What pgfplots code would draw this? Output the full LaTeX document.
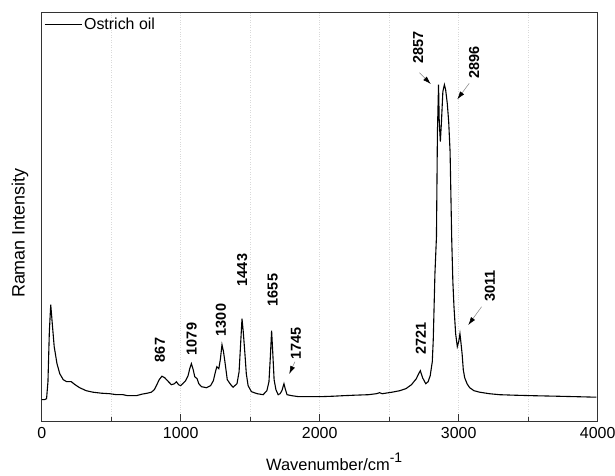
\documentclass[border=0pt]{standalone}
\usepackage{pgfplots}
\pgfplotsset{compat=1.18}
\usepackage{fontspec}
\setmainfont{Liberation Sans}
\usetikzlibrary{arrows.meta}

\pgfplotstableread{
wn I
0 22
20 22
35 23
45 40
55 90
65 117
75 100
90 75
110 58
130 48
155 42
180 40
213 40
240 37
273 34
320 31
369 29.5
430 28.5
489 28
540 27
585 27
620 26
681 26
720 27.5
760 28.5
789 29.5
810 32
825 36
845 42
865 45.5
885 44
905 41
933 37
955 38
969 40
985 37
1000 36
1015 38
1035 41
1053 46
1065 53
1077 58
1090 52
1101 45
1118 43
1130 38
1150 35
1185 34
1215 36
1235 41
1250 50
1260 55
1274 53
1285 62
1297 77
1308 70
1320 58
1335 42
1360 37
1377 34.5
1405 38
1420 50
1432 80
1441 103
1450 90
1462 68
1472 48
1485 36
1509 30
1550 28
1593 27
1620 31
1635 40
1645 65
1654 91
1662 70
1672 42
1685 32
1701 27
1715 28
1728 31
1743 38
1752 33
1765 27
1800 26
1850 25
1928 25
2000 25
2100 25.5
2168 26
2250 26.5
2350 27
2408 28
2430 29
2450 28
2520 29.5
2576 31
2620 33
2660 37
2695 43
2712 48
2724 51
2740 44
2763 38
2780 40
2795 46
2810 60
2817 82
2829 148
2840 185
2847 290
2855 337
2860 300
2868 280
2876 300
2886 330
2897 337
2906 332
2918 318
2928 300
2938 270
2950 181
2958 140
2966 115
2978 88
2990 75
3000 80
3009 88
3017 78
3025 67
3033 52
3043 44
3060 38
3079 34
3110 31
3151 29.5
3220 28
3295 27
3400 26.5
3535 26
3700 25.5
3850 25
3990 24.5
}\ostrich

\begin{document}
\begin{tikzpicture}
\useasboundingbox (-41.7bp,-54.3bp) rectangle (573.3bp,421.7bp);
\begin{axis}[
    at={(0,0)}, anchor=south west,
    scale only axis,
    width=556bp, height=409bp,
    xmin=0, xmax=4000,
    ymin=0, ymax=409,
    xtick={0,1000,2000,3000,4000},
    minor xtick={500,1500,2500,3500},
    ytick=\empty,
    xtick pos=left,
    tick align=inside,
    major tick length=8bp,
    minor tick length=5bp,
    xmajorgrids, xminorgrids,
    grid style={dotted, gray!30, line width=0.5bp},
    minor grid style={dotted, gray!30, line width=0.5bp},
    axis line style={black!80, line width=1.2bp},
    every tick/.style={black!80, line width=1.2bp},
    /pgf/number format/assume math mode=true,
    /pgf/number format/1000 sep={},
    tick label style={font=\fontsize{16}{16}\selectfont},
    xticklabel style={yshift=-2bp},
    xlabel={Wavenumber/cm\raisebox{8bp}{\fontsize{14}{14}\selectfont -1}},
    xlabel style={font=\fontsize{16.5}{16.5}\selectfont, at={(axis description cs:0.526,-0.119)}, anchor=base},
    ylabel={Raman Intensity},
    ylabel style={font=\fontsize{18}{18}\selectfont, at={(axis description cs:-0.039,0.461)}, anchor=center, rotate=0},
    legend style={at={(axis description cs:0.002,0.994)}, anchor=north west, draw=none, fill=none,
        inner sep=1bp, font=\fontsize{16}{16}\selectfont},
    legend cell align=left,
    legend image code/.code={\draw[#1] (0bp,0bp) -- (37bp,0bp);},
    clip=false,
]
\addplot[black, line width=1.1bp] table[x=wn, y=I] {\ostrich};
\addlegendentry{Ostrich oil}

\tikzset{lab/.style={rotate=90, font=\fontsize{14.5}{14.5}\selectfont\bfseries, inner sep=0pt},
         arr/.style={gray, line width=0.5bp, -{Latex[black, length=8bp, width=5bp]}}}
\node[lab] at (axis cs:851,71.7) {867};
\node[lab] at (axis cs:1079,82.7) {1079};
\node[lab] at (axis cs:1290,101.7) {1300};
\node[lab] at (axis cs:1443,151.7) {1443};
\node[lab] at (axis cs:1662,131.7) {1655};
\node[lab] at (axis cs:1830,78.4) {1745};
\draw[arr] (axis cs:1822,60) -- (axis cs:1781,47.7);
\node[lab] at (axis cs:2727,83.4) {2721};
\node[lab] at (axis cs:3225,136) {3011};
\draw[arr] (axis cs:3165,115) -- (axis cs:3069,96.7);
\node[lab] at (axis cs:2709,374.2) {2857};
\draw[arr] (axis cs:2717,349) -- (axis cs:2799,337.7);
\node[lab] at (axis cs:3112,359.2) {2896};
\draw[arr] (axis cs:3076,338.4) -- (axis cs:2990,322.4);
\end{axis}
\end{tikzpicture}
\end{document}
